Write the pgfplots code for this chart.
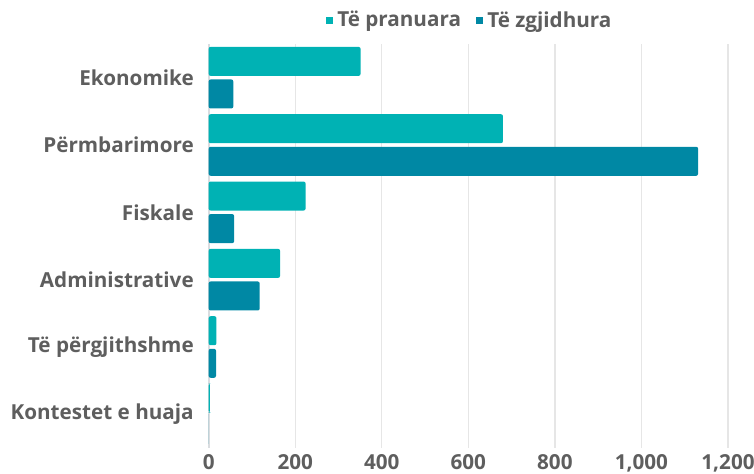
\documentclass[border=0pt]{standalone}
\usepackage{fontspec}
\setmainfont{Open Sans}
\usepackage{pgfplots}
\pgfplotsset{compat=1.18}
\definecolor{lightteal}{HTML}{00B2B4}
\definecolor{darkteal}{HTML}{0088A4}
\definecolor{txtgray}{HTML}{5E5E5E}
\definecolor{gridgray}{HTML}{E6E6E6}
\definecolor{axgray}{HTML}{DADDE0}
\begin{document}
\begin{tikzpicture}
\begin{axis}[
  at={(0,0)}, anchor=south west,
  scale only axis,
  width=389.5pt, height=303pt,
  xbar,
  xmin=0, xmax=1200,
  ymin=-0.5, ymax=5.5,
  y dir=reverse,
  bar width=0.431,
  xtick={0,200,...,1200},
  ytick={0,1,2,3,4,5},
  yticklabels={Ekonomike,Përmbarimore,Fiskale,Administrative,Të përgjithshme,Kontestet e huaja},
  major tick length=0pt,
  xmajorgrids,
  major grid style={gridgray, line width=1pt},
  axis lines*=left,
  x axis line style={draw=none},
  y axis line style={draw=axgray, line width=1.5pt},
  /pgf/number format/assume math mode=true,
  /pgf/number format/1000 sep={,},
  xticklabel style={font=\fontsize{15.5}{17}\selectfont\bfseries, text=txtgray, inner sep=0pt, yshift=-4.5pt},
  yticklabel style={font=\fontsize{15.5}{17}\selectfont\bfseries, text=txtgray, inner sep=0pt, xshift=-11pt},
  legend style={draw=none, at={(0.503,1.059)}, anchor=center, legend columns=2,
    font=\fontsize{15.5}{17}\selectfont\bfseries, text=txtgray,
    /tikz/every odd column/.append style={column sep=1.5pt},
    /tikz/every even column/.append style={column sep=9pt}},
  legend image code/.code={\fill[#1, rounded corners=0pt] (0pt,-2.6pt) rectangle (5.2pt,2.6pt);},
]
\addplot[fill=lightteal, draw=none, rounded corners=1.5pt, bar shift=-0.242] coordinates {
  (351,0) (680,1) (224,2) (165,3) (18,4) (3,5)};
\addplot[fill=darkteal, draw=none, rounded corners=1.5pt, bar shift=0.242] coordinates {
  (57,0) (1131,1) (59,2) (118,3) (17,4) (0,5)};
\legend{Të pranuara, Të zgjidhura}
\end{axis}
\pgfresetboundingbox
\path[use as bounding box] (-156.5pt,-19.5pt) rectangle (409pt,336pt);
\end{tikzpicture}
\end{document}
